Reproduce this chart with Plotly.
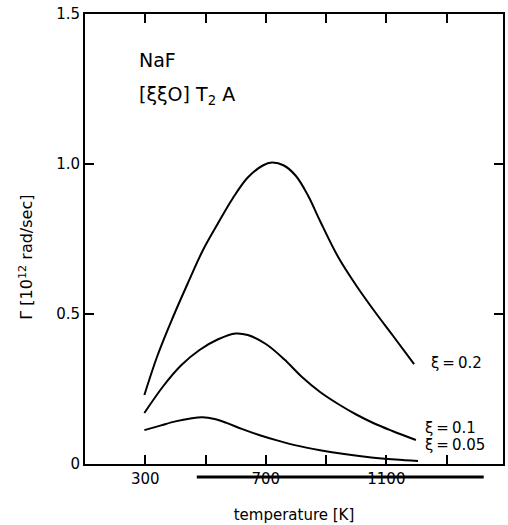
import plotly.graph_objects as go

# Data
T_02 = [297, 340, 390, 440, 490, 540, 590, 640, 690, 720, 760, 800, 840, 880, 940, 1000, 1060, 1120, 1192]
G_02 = [0.23, 0.36, 0.485, 0.60, 0.71, 0.80, 0.885, 0.955, 0.995, 1.005, 0.995, 0.96, 0.895, 0.81, 0.69, 0.595, 0.51, 0.43, 0.333]

T_01 = [297, 360, 420, 480, 540, 600, 640, 700, 760, 820, 880, 940, 1000, 1060, 1120, 1198]
G_01 = [0.17, 0.26, 0.33, 0.38, 0.415, 0.435, 0.43, 0.40, 0.35, 0.29, 0.24, 0.2, 0.165, 0.135, 0.11, 0.08]

T_005 = [297, 350, 400, 450, 490, 530, 570, 620, 680, 740, 800, 880, 960, 1050, 1130, 1205]
G_005 = [0.113, 0.128, 0.142, 0.152, 0.156, 0.150, 0.137, 0.117, 0.096, 0.078, 0.062, 0.046, 0.033, 0.022, 0.015, 0.01]

x_tickvals = [300, 500, 700, 900, 1100, 1300]
x_ticktext = ["300", "", "700", "", "1100", ""]
y_tickvals = [0, 0.5, 1.0, 1.5]
y_ticktext = ["0", "0.5", "1.0", "1.5"]

series = [(T_02, G_02), (T_01, G_01), (T_005, G_005)]
labels = [("ξ\u2009=\u20090.2", 1241, 0.337), ("ξ\u2009=\u20090.1", 1221, 0.12), ("ξ\u2009=\u20090.05", 1221, 0.063)]

FONT = "DejaVu Sans"

fig = go.Figure()
for xs, ys in series:
    fig.add_trace(go.Scatter(x=xs, y=ys, mode="lines",
                             line=dict(color="black", width=2, shape="spline", smoothing=1.0),
                             showlegend=False, hoverinfo="skip"))

for txt, lx, ly in labels:
    fig.add_annotation(x=lx, y=ly, xref="x", yref="y", text=txt, showarrow=False,
                       xanchor="left", yanchor="middle", font=dict(family=FONT, size=15, color="black"))

fig.add_annotation(x=274, y=1.347, xref="x", yref="y", text="NaF", showarrow=False,
                   xanchor="left", yanchor="middle", font=dict(family=FONT, size=19, color="black"))
fig.add_annotation(x=274, y=1.23, xref="x", yref="y", text="[ξξO] T<sub>2</sub> A", showarrow=False,
                   xanchor="left", yanchor="middle", font=dict(family=FONT, size=19, color="black"))

# y-axis title
fig.add_annotation(x=-0.142, y=0.46, xref="paper", yref="paper",
                   text="Γ [10<sup>12</sup> rad/sec]", showarrow=False, textangle=-90,
                   xanchor="center", yanchor="middle", font=dict(family=FONT, size=16, color="black"))

# thick bar under the x axis
fig.add_shape(type="line", xref="x", yref="paper", x0=471, x1=1423, y0=-0.029, y1=-0.029,
              line=dict(color="black", width=3))

fig.update_layout(
    width=508, height=525,
    margin=dict(l=85, r=3, t=14, b=61),
    paper_bgcolor="white", plot_bgcolor="white",
    font=dict(family=FONT, size=15, color="black"),
    xaxis=dict(range=[100, 1487], tickvals=x_tickvals, ticktext=x_ticktext,
               ticks="inside", ticklen=9, tickwidth=1.5, tickcolor="black",
               showline=True, linewidth=2, linecolor="black", mirror="ticks",
               showgrid=False, zeroline=False,
               title=dict(text="temperature [K]", standoff=22, font=dict(size=15))),
    yaxis=dict(range=[0, 1.5], tickvals=y_tickvals, ticktext=y_ticktext,
               ticks="inside", ticklen=9, tickwidth=1.5, tickcolor="black",
               showline=True, linewidth=2, linecolor="black", mirror="ticks",
               showgrid=False, zeroline=False),
)

fig.write_html("out.html", config={"displayModeBar": False},
               post_script="document.body.style.margin='0px';")
